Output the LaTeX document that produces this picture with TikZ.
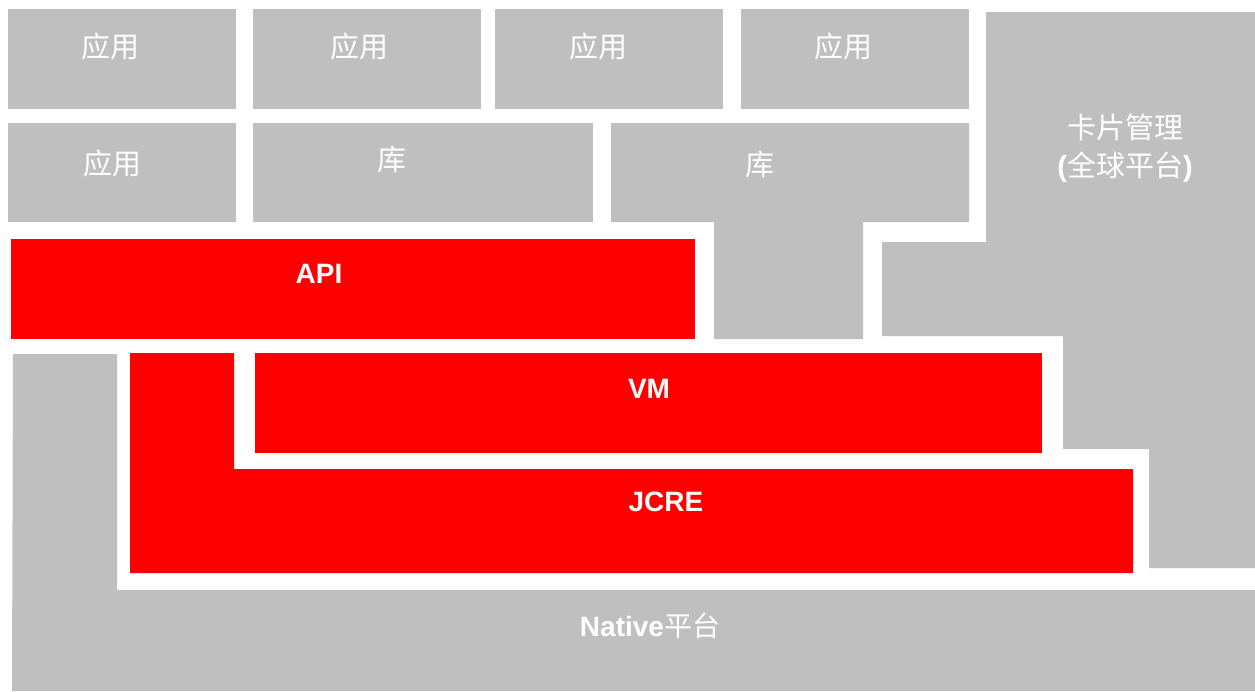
\documentclass[tikz,border=0pt]{standalone}
\usepackage{fontspec}
\setmainfont{Liberation Sans}
\newfontfamily\cjk{Noto Sans CJK SC}
\definecolor{blockgray}{HTML}{BFBFBF}
\definecolor{blockred}{HTML}{FF0000}
\tikzset{
  graybox/.style={fill=blockgray},
  redbox/.style={fill=blockred},
  cjklabel/.style={text=white, font=\cjk\fontsize{29}{36}\selectfont, inner sep=0pt, align=center},
  latinlabel/.style={text=white, font=\bfseries\fontsize{28}{34}\selectfont, inner sep=0pt},
}
\begin{document}
\begin{tikzpicture}[x=1pt,y=-1pt]
\useasboundingbox (0,0) rectangle (1255,691);
% top row
\fill[graybox] (8,9) rectangle (236,109);
\fill[graybox] (253,9) rectangle (481,109);
\fill[graybox] (495,9) rectangle (723,109);
\fill[graybox] (741,9) rectangle (969,109);
% second row
\fill[graybox] (8,123) rectangle (236,222);
\fill[graybox] (253,123) rectangle (593,222);
\fill[graybox] (611,123) -- (969,123) -- (969,222) -- (863,222) -- (863,339) -- (714,339) -- (714,222) -- (611,222) -- cycle;
% card manager
\fill[graybox] (986,12) -- (1255,12) -- (1255,568) -- (1149,568) -- (1149,449) -- (1063,449) -- (1063,336) -- (882,336) -- (882,242) -- (986,242) -- cycle;
% API
\fill[redbox] (11,239) rectangle (695,339);
% VM
\fill[redbox] (255,353) rectangle (1042,453);
% JCRE
\fill[redbox] (130,353) -- (234,353) -- (234,469) -- (1133,469) -- (1133,573) -- (130,573) -- cycle;
% native
\fill[graybox] (13,354) -- (117,354) -- (117,590) -- (1255,590) -- (1255,691) -- (12,691) -- cycle;
% labels
\node[cjklabel] (app1) at (110,46) {应用};
\node[cjklabel] (app2) at (359,46) {应用};
\node[cjklabel] (app3) at (598,46) {应用};
\node[cjklabel] (app4) at (843,46) {应用};
\node[cjklabel] (app5) at (112,163) {应用};
\node[cjklabel] (lib1) at (392,160) {库};
\node[cjklabel] (lib2) at (760,165) {库};
\node[cjklabel, font=\cjk\fontsize{29}{38}\selectfont] (card) at (1125,148) {卡片管理\\{\normalfont\bfseries (}全球平台{\normalfont\bfseries )}};
\node[latinlabel] (api) at (319,274) {API};
\node[latinlabel] (vm) at (649,389) {VM};
\node[latinlabel] (jcre) at (666,502) {JCRE};
\node[latinlabel] (native) at (650,626) {Native{\cjk\mdseries 平台}};
\end{tikzpicture}
\end{document}
